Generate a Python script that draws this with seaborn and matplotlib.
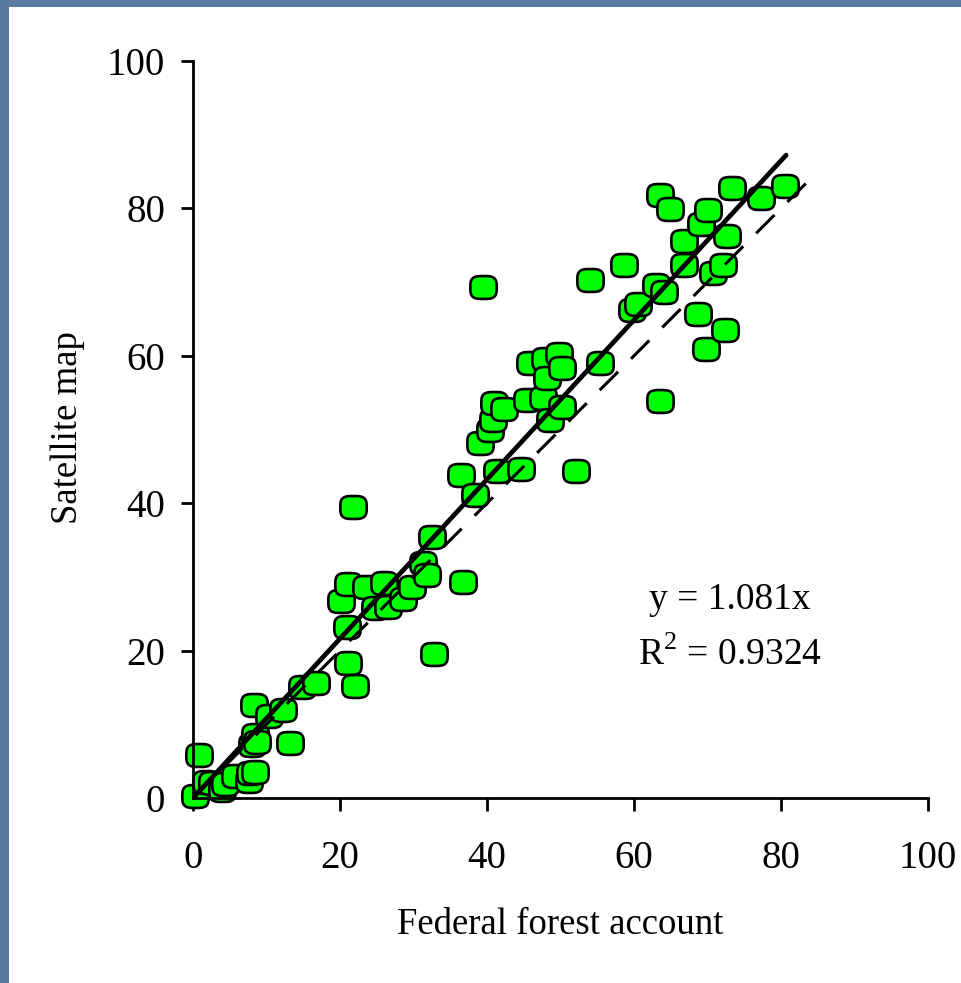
import numpy as np
import matplotlib
matplotlib.use('Agg')
import matplotlib.pyplot as plt
import seaborn as sns
from matplotlib.patches import Rectangle

# Federal forest account (x) vs Satellite map (y), percent
fed = [0.3, 0.8, 1.8, 2.6, 3.9, 4.4, 5.7, 7.6, 7.8, 8.4, 8.0, 8.4, 8.7, 8.3,
       10.3, 12.2, 13.2, 14.8, 16.7, 20.1, 21.1, 21.0, 21.1, 21.8, 22.0, 23.5,
       24.8, 26.0, 26.5, 28.6, 29.8, 31.3, 31.8, 32.5, 32.8, 36.5, 36.7, 38.4,
       39.5, 39.0, 40.4, 40.8, 41.0, 41.4, 42.3, 44.6, 45.4, 45.9, 47.6, 47.9,
       48.2, 48.6, 49.8, 50.2, 50.2, 52.1, 54.0, 55.4, 58.6, 59.7, 60.5, 63.0,
       63.5, 63.5, 64.1, 64.9, 66.8, 66.8, 68.7, 69.1, 69.8, 70.1, 70.7, 72.1,
       72.4, 72.7, 73.3, 77.3, 80.5]
sat = [0.3, 5.8, 2.2, 2.0, 1.1, 1.9, 3.0, 2.3, 3.4, 3.5, 7.2, 8.5, 7.6, 12.6,
       11.1, 11.9, 7.5, 15.1, 15.6, 26.7, 29.0, 23.2, 18.3, 39.5, 15.2, 28.6,
       25.8, 29.2, 25.9, 27.0, 28.6, 31.9, 30.3, 35.4, 19.5, 43.8, 29.3, 41.1,
       69.3, 48.2, 49.9, 51.3, 53.6, 44.4, 52.8, 44.6, 54.0, 59.0, 54.3, 59.6,
       57.0, 51.3, 60.2, 58.4, 53.1, 44.4, 70.3, 59.0, 72.3, 66.2, 67.0, 69.6,
       81.8, 53.9, 68.7, 79.9, 75.6, 72.3, 65.7, 77.9, 60.9, 79.8, 71.2, 72.3,
       63.5, 76.3, 82.8, 81.4, 83.0]

slope = 1.081
r2 = 0.9324
fit_x = np.array([0, 80.7])
one_x = np.array([0, 85.0])

sns.set_style('white')
plt.rcParams['font.family'] = ['Liberation Serif', 'DejaVu Serif']
plt.rcParams['mathtext.fontset'] = 'custom'
plt.rcParams['mathtext.rm'] = 'Liberation Serif'
plt.rcParams['text.color'] = 'black'
plt.rcParams['axes.labelcolor'] = 'black'

fig = plt.figure(figsize=(9.62, 9.83), dpi=100)
fig.patch.set_facecolor('#5a7aa2')
fig.add_artist(Rectangle((9 / 962, 0), 1, 976 / 983, transform=fig.transFigure,
                         facecolor='white', edgecolor='none', zorder=-1))
ax = fig.add_axes([193 / 962, 185 / 983, 735 / 962, 737 / 983])

# rounded-square marker
t = np.linspace(0, 2 * np.pi, 72)
mx = np.sign(np.cos(t)) * np.abs(np.cos(t)) ** 0.6
my = 0.87 * np.sign(np.sin(t)) * np.abs(np.sin(t)) ** 0.6
rsq = list(zip(mx, my))

sns.scatterplot(x=fed, y=sat, ax=ax, marker=rsq, s=360, color='#00ff00',
                edgecolor='black', linewidth=1.9, zorder=2, clip_on=False)
sns.lineplot(x=fit_x, y=slope * fit_x, ax=ax, color='black', zorder=3)
sns.lineplot(x=one_x, y=one_x, ax=ax, color='black', zorder=3)
fit_line, one_line = ax.lines[-2], ax.lines[-1]
fit_line.set_linewidth(3.4)
one_line.set_linewidth(2.2)
one_line.set_linestyle((0, (8.5, 6)))

ax.set_xlim(0, 100)
ax.set_ylim(0, 100)
ax.set_xticks(range(0, 101, 20))
ax.set_yticks(range(0, 101, 20))
sns.despine(ax=ax)
for s in ['left', 'bottom']:
    ax.spines[s].set_linewidth(2.0)
    ax.spines[s].set_color('black')
ax.tick_params(axis='both', direction='out', length=9, width=2.0,
               labelsize=28, colors='black', bottom=True, left=True)
ax.tick_params(axis='x', pad=21)
ax.tick_params(axis='y', pad=11)

ax.set_xlabel('Federal forest account', fontsize=26.5)
ax.xaxis.set_label_coords(0.5, -0.148)
ax.text(-0.170, 0.502, 'Satellite map', transform=ax.transAxes, rotation=90,
        ha='center', va='center', fontsize=26.5)

ax.text(73.1, 26.9, f'y = {slope}x', ha='center', va='center', fontsize=27)
ax.text(73.1, 19.4, f'R$^2$ = {r2}', ha='center', va='center', fontsize=27)

fig.savefig('out.png', dpi=100)
